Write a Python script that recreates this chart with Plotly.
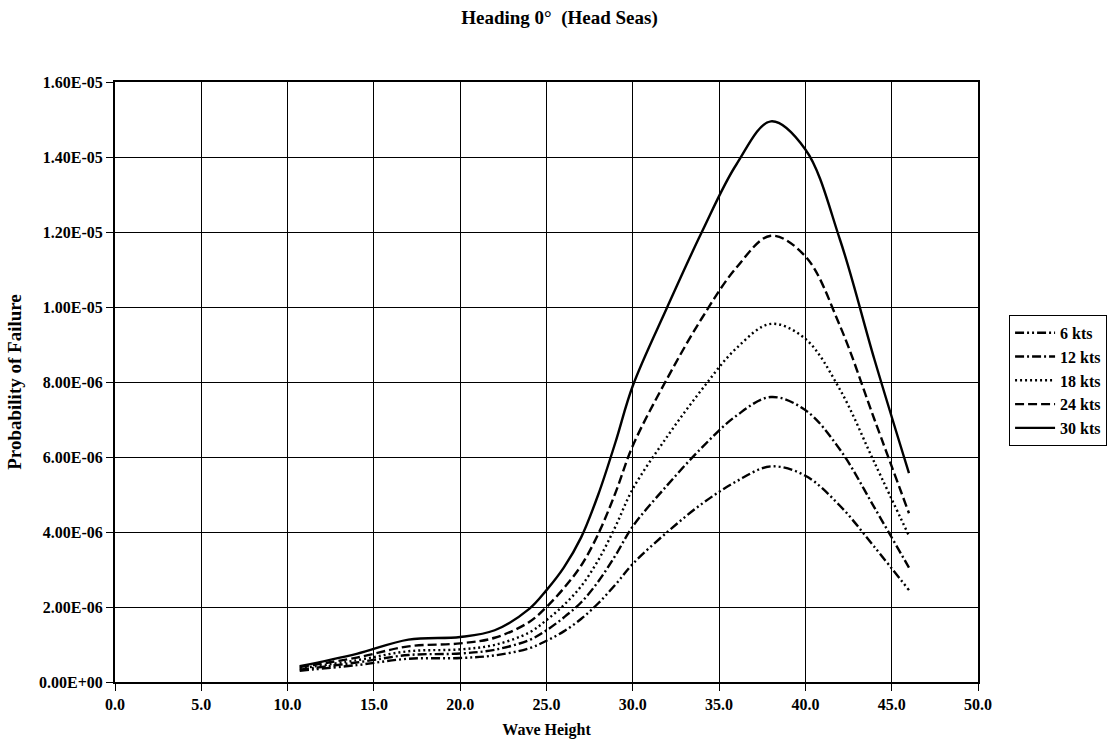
import plotly.graph_objects as go

# Wave heights at which failure probability was evaluated
wave_height = [10.7, 14.0, 17.0, 20.0, 22.0, 24.0, 25.0, 26.0, 27.0, 28.0, 29.0, 30.0, 32.0, 34.0, 36.0, 38.0, 40.0, 42.0, 44.0, 46.0]

# Probability of failure for each ship speed (units of 1e-6)
p_6kts = [0.30, 0.45, 0.62, 0.64, 0.71, 0.90, 1.10, 1.35, 1.68, 2.10, 2.60, 3.15, 4.00, 4.75, 5.35, 5.75, 5.50, 4.70, 3.60, 2.45]
p_12kts = [0.33, 0.52, 0.72, 0.76, 0.86, 1.12, 1.38, 1.72, 2.12, 2.68, 3.38, 4.15, 5.25, 6.25, 7.10, 7.60, 7.25, 6.20, 4.65, 3.05]
p_18kts = [0.36, 0.58, 0.82, 0.87, 0.99, 1.32, 1.65, 2.05, 2.55, 3.25, 4.15, 5.15, 6.55, 7.80, 8.90, 9.55, 9.15, 7.80, 5.85, 3.90]
p_24kts = [0.40, 0.65, 0.95, 1.03, 1.18, 1.60, 2.00, 2.50, 3.10, 3.95, 5.05, 6.30, 8.10, 9.70, 11.05, 11.9, 11.35, 9.50, 7.00, 4.50]
p_30kts = [0.42, 0.75, 1.13, 1.20, 1.38, 1.95, 2.45, 3.05, 3.85, 5.00, 6.40, 7.90, 10.0, 12.0, 13.8, 14.95, 14.2, 11.8, 8.60, 5.57]
value_scale = 1e-6

series_names = ["6 kts", "12 kts", "18 kts", "24 kts", "30 kts"]
series_values = [p_6kts, p_12kts, p_18kts, p_24kts, p_30kts]
series_dash = [
    "9px,3px,2px,3px,2px,3px",
    "9px,3px,2px,3px",
    "2px,3px",
    "9px,4px",
    "solid",
]

y_ticks = [i * 2e-6 for i in range(9)]
y_ticktext = [f"{v:.2E}" for v in y_ticks]
x_ticks = [i * 5.0 for i in range(11)]
x_ticktext = [f"{v:.1f}" for v in x_ticks]

serif = "Liberation Serif"

fig = go.Figure()
for name, vals, dash in zip(series_names, series_values, series_dash):
    fig.add_trace(go.Scatter(
        x=wave_height, y=[v * value_scale for v in vals], name=name, mode="lines",
        line=dict(color="black", width=2.4, dash=dash, shape="spline", smoothing=1.0),
    ))

fig.update_layout(
    width=1119, height=745,
    margin=dict(l=115, r=141, t=82, b=63),
    paper_bgcolor="white", plot_bgcolor="white",
    font=dict(family=serif, size=16, color="black", weight="bold"),
    title=dict(text="Heading 0°  (Head Seas)", x=0.5, xanchor="center",
               y=1 - 17 / 745, yanchor="middle",
               font=dict(family=serif, size=19, color="black", weight="bold")),
    showlegend=True,
    legend=dict(x=1.036, y=0.612, xanchor="left", yanchor="top",
                bordercolor="black", borderwidth=1, bgcolor="white",
                font=dict(family=serif, size=16, color="black", weight="bold"),
                tracegroupgap=0, itemwidth=40),
)

fig.update_xaxes(
    range=[0, 50], tickmode="array", tickvals=x_ticks, ticktext=x_ticktext,
    automargin=False,
    showgrid=True, gridcolor="black", gridwidth=1,
    showline=True, linecolor="black", linewidth=2, mirror=True,
    ticks="outside", ticklen=7, tickcolor="black",
    zeroline=False,
    tickfont=dict(family=serif, size=16, color="black", weight="bold"),
    title=dict(text="Wave Height", standoff=12,
               font=dict(family=serif, size=16, color="black", weight="bold")),
)
fig.update_yaxes(
    range=[0, 1.6e-5], tickmode="array", tickvals=y_ticks, ticktext=y_ticktext,
    automargin=False,
    showgrid=True, gridcolor="black", gridwidth=1,
    showline=True, linecolor="black", linewidth=2, mirror=True,
    ticks="outside", ticklen=7, tickcolor="black",
    zeroline=False,
    tickfont=dict(family=serif, size=16, color="black", weight="bold"),
    title=dict(text="Probability of Failure", standoff=12,
               font=dict(family=serif, size=19, color="black", weight="bold")),
)

fig.write_html("out.html")
